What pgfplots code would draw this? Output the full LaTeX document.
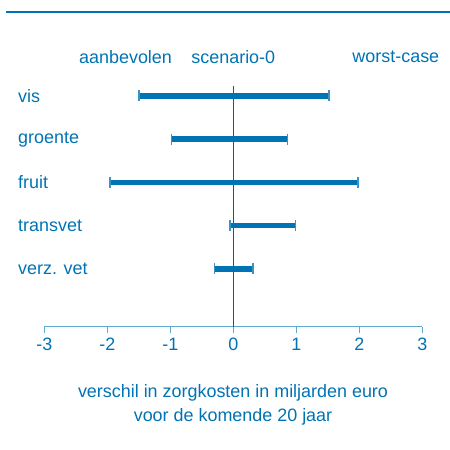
\documentclass[border=0pt]{standalone}
\usepackage{pgfplots}
\pgfplotsset{compat=1.18}
\usepackage{fontspec}
\setmainfont{Liberation Sans}
\definecolor{mainblue}{RGB}{0,115,180}
\definecolor{axisblue}{RGB}{95,168,208}
\definecolor{zeroblue}{RGB}{0,95,155}
\begin{document}
\begin{tikzpicture}[x=1bp,y=1bp]
\useasboundingbox (0,0) rectangle (450,450);
\draw[mainblue, line width=1.2bp] (6,438) -- (450,438);
\begin{axis}[
  at={(44.3bp,123.3bp)},
  scale only axis, width=378bp, height=240.7bp,
  xmin=-3, xmax=3, ymin=-0.34, ymax=5.23,
  anchor=south west,
  axis x line=bottom, axis y line=none,
  axis line style={axisblue, line width=1.5bp, -},
  xtick={-3,-2,-1,0,1,2,3},
  major tick length=6bp,
  xtick style={axisblue, line width=1.5bp},
  tick align=outside,
  ticklabel style={font=\fontsize{18}{20}\selectfont, text=mainblue},
  /pgf/number format/assume math mode=true,
  xticklabel style={yshift=-2bp},
  clip=false,
  rangebar/.style={color=mainblue, line width=5.5bp, mark=|, mark size=5.5bp, mark options={line width=1.6bp, color=axisblue!60!mainblue}},
]
\addplot[zeroblue, line width=1bp, mark=none] coordinates {(0,-0.34) (0,5.23)};
\addplot[rangebar] coordinates {(-1.50,5) (1.52,5)};
\addplot[rangebar] coordinates {(-0.98,4) (0.86,4)};
\addplot[rangebar] coordinates {(-1.96,3) (1.98,3)};
\addplot[rangebar] coordinates {(-0.05,2) (0.99,2)};
\addplot[rangebar] coordinates {(-0.30,1) (0.31,1)};
\begin{scope}[every node/.style={font=\fontsize{18}{20}\selectfont, text=mainblue, inner sep=0pt}]
\node[anchor=west] at ([xshift=-26.3bp]axis cs:-3,5) {vis};
\node[anchor=west] at ([xshift=-26.3bp]axis cs:-3,4) {groente};
\node[anchor=west] at ([xshift=-26.3bp]axis cs:-3,3) {fruit};
\node[anchor=west] at ([xshift=-26.3bp]axis cs:-3,2) {transvet};
\node[anchor=west] at ([xshift=-26.3bp]axis cs:-3,1) {verz. vet};
\node at (axis cs:-1.71,5.91) {aanbevolen};
\node at (axis cs:0,5.91) {scenario-0};
\node at (axis cs:2.58,5.91) {worst-case};
\end{scope}
\end{axis}
\node[font=\fontsize{18}{24}\selectfont, text=mainblue, align=center] at (233,45) {verschil in zorgkosten in miljarden euro\\voor de komende 20 jaar};
\end{tikzpicture}
\end{document}
